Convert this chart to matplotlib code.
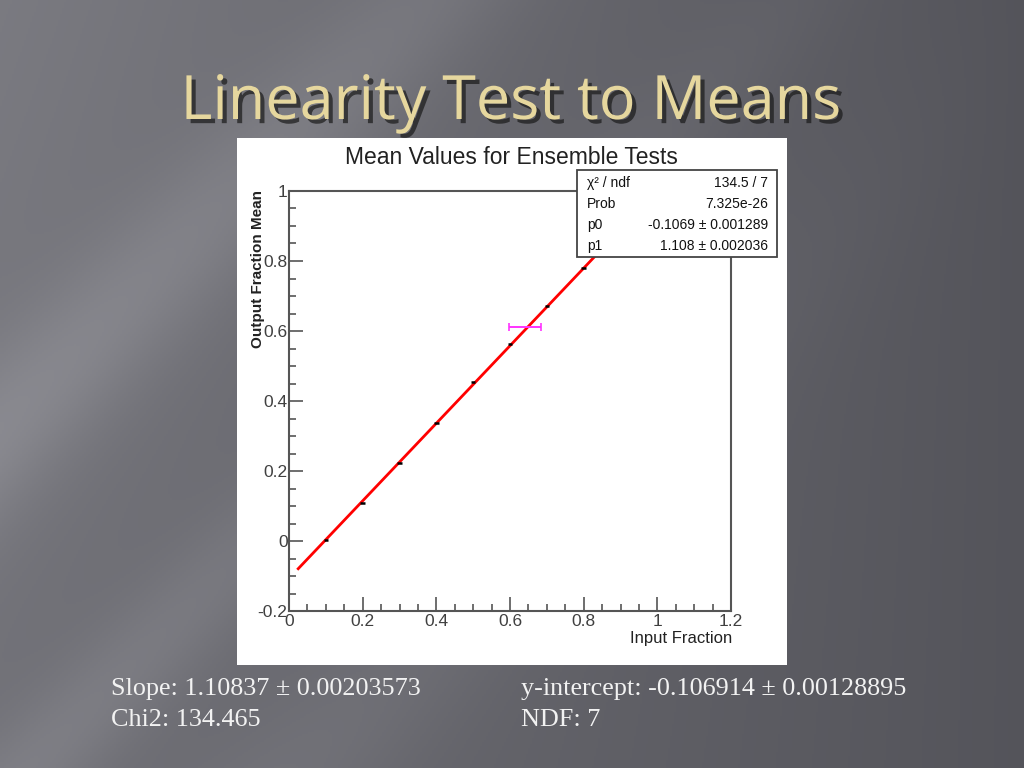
import numpy as np
import matplotlib
matplotlib.use("Agg")
import matplotlib.pyplot as plt
import matplotlib.patheffects as pe
from matplotlib.patches import Rectangle
from matplotlib.ticker import MultipleLocator

# data
input_fraction = [0.1, 0.2, 0.3, 0.4, 0.5, 0.6, 0.7, 0.8, 0.9]
output_mean = [0.002, 0.108, 0.222, 0.337, 0.453, 0.563, 0.672, 0.781, 0.889]
marker_xerr = [0.006] * len(input_fraction)

extra_x = [0.64]
extra_y = [0.611]
extra_xerr = [0.043]

fit_p0 = -0.1069
fit_p1 = 1.108
fit_range = [0.025, 0.95]

stat_labels = ["χ² / ndf", "Prob", "p0", "p1"]
stat_values = ["134.5 / 7", "7.325e-26", "-0.1069 ± 0.001289", "1.108 ± 0.002036"]

slide_title = "Linearity Test to Means"
plot_title = "Mean Values for Ensemble Tests"
x_label = "Input Fraction"
y_label = "Output Fraction Mean"
note_left = ["Slope: 1.10837 ± 0.00203573", "Chi2: 134.465"]
note_right = ["y-intercept: -0.106914 ± 0.00128895", "NDF: 7"]

W, H = 1024, 768


def px(x, y):
    # pixel position -> figure fraction
    return x / W, 1 - y / H


def draw_background(fig):
    bg = fig.add_axes([0, 0, 1, 1], zorder=-10)
    yy, xx = np.mgrid[0:H:2, 0:W:2]
    u = xx / W
    v = yy / H
    base = 0.48 - 0.15 * u
    # soft diagonal light streaks on the left
    d = u * 1.0 + v * 0.75
    base += 0.08 * np.exp(-((d - 0.42) / 0.09) ** 2) * (1 - u)
    base += 0.06 * np.exp(-((d - 0.78) / 0.07) ** 2) * (1 - u)
    base += 0.05 * np.exp(-((d - 1.05) / 0.10) ** 2) * (1 - u)
    base -= 0.04 * v * (1 - u)
    img = np.dstack([base, base, base + 0.025])
    bg.imshow(np.clip(img, 0, 1), extent=[0, 1, 0, 1], aspect="auto", origin="upper")
    bg.set_axis_off()


def draw_plot(fig):
    # white canvas of the ROOT picture
    fig.patches.append(Rectangle(px(237, 665), 550 / W, 527 / H, transform=fig.transFigure,
                                 facecolor="white", edgecolor="none", zorder=-5))

    l, b = px(289, 611)
    r, t = px(731, 191)
    ax = fig.add_axes([l, b, r - l, t - b])
    ax.set_xlim(0, 1.2)
    ax.set_ylim(-0.2, 1.0)

    xs = np.array(fit_range)
    ax.plot(xs, fit_p0 + fit_p1 * xs, color="#ff0000", lw=2.0, zorder=2)
    ax.errorbar(input_fraction, output_mean, xerr=marker_xerr, fmt="none",
                ecolor="black", elinewidth=1.8, zorder=3)
    ax.errorbar(extra_x, extra_y, xerr=extra_xerr, fmt="none", ecolor="#ff33ff",
                elinewidth=1.4, capsize=3, capthick=1.2, zorder=3)

    frame = "#555555"
    for s in ax.spines.values():
        s.set_color(frame)
        s.set_linewidth(1.5)
    ax.xaxis.set_major_locator(MultipleLocator(0.2))
    ax.xaxis.set_minor_locator(MultipleLocator(0.05))
    ax.yaxis.set_major_locator(MultipleLocator(0.2))
    ax.yaxis.set_minor_locator(MultipleLocator(0.05))
    ax.tick_params(which="both", direction="in", top=False, right=False, color=frame, width=1.2)
    ax.tick_params(which="major", length=10)
    ax.tick_params(which="minor", length=5)
    ax.tick_params(axis="x", labelsize=12.5, labelcolor="#404040", pad=2)
    ax.tick_params(axis="y", labelsize=12.5, labelcolor="#404040", pad=1)
    ax.set_xticks([0, 0.2, 0.4, 0.6, 0.8, 1.0, 1.2])
    ax.set_xticklabels(["0", "0.2", "0.4", "0.6", "0.8", "1", "1.2"], family="Liberation Sans")
    ax.set_yticks([-0.2, 0, 0.2, 0.4, 0.6, 0.8, 1.0])
    ax.set_yticklabels(["-0.2", "0", "0.2", "0.4", "0.6", "0.8", "1"], family="Liberation Sans")

    x, y = px(511, 157)
    fig.text(x, y, plot_title, ha="center", va="center", fontsize=16.5,
             family="Liberation Sans", color="#222222")
    x, y = px(732, 638)
    fig.text(x, y, x_label, ha="right", va="center", fontsize=12,
             family="Liberation Sans", color="#222222")
    x, y = px(258, 190)
    fig.text(x, y, y_label, ha="center", va="top", rotation=90, fontsize=11,
             family="Liberation Sans", fontweight="bold", color="#222222")

    # fit statistics box
    fig.patches.append(Rectangle(px(577, 257), 200 / W, 87 / H, transform=fig.transFigure,
                                 facecolor="white", edgecolor="#444444", lw=1.3, zorder=5))
    for i, (lab, val) in enumerate(zip(stat_labels, stat_values)):
        yrow = 183 + i * 21
        x, y = px(587, yrow)
        fig.text(x, y, lab, ha="left", va="center", fontsize=10, family="Liberation Sans",
                 color="#111111", zorder=6)
        x, y = px(768, yrow)
        fig.text(x, y, val, ha="right", va="center", fontsize=10, family="Liberation Sans",
                 color="#111111", zorder=6)


def draw_slide_text(fig):
    x, y = px(511, 119)
    fig.text(x, y, slide_title, ha="center", va="baseline", fontsize=44, family="Open Sans",
             color="#e6d79e",
             path_effects=[pe.withSimplePatchShadow(offset=(3, -3), shadow_rgbFace="#1a1a1a", alpha=0.7)])
    for i, line in enumerate(note_left):
        x, y = px(111, 695 + i * 31)
        fig.text(x, y, line, ha="left", va="baseline", fontsize=18.8,
                 family="Liberation Serif", color="#f2f2f2")
    for i, line in enumerate(note_right):
        x, y = px(521, 695 + i * 31)
        fig.text(x, y, line, ha="left", va="baseline", fontsize=18.8,
                 family="Liberation Serif", color="#f2f2f2")


def main():
    fig = plt.figure(figsize=(W / 100, H / 100), dpi=100)
    draw_background(fig)
    draw_plot(fig)
    draw_slide_text(fig)
    fig.savefig("out.png", dpi=100)


if __name__ == "__main__":
    main()
